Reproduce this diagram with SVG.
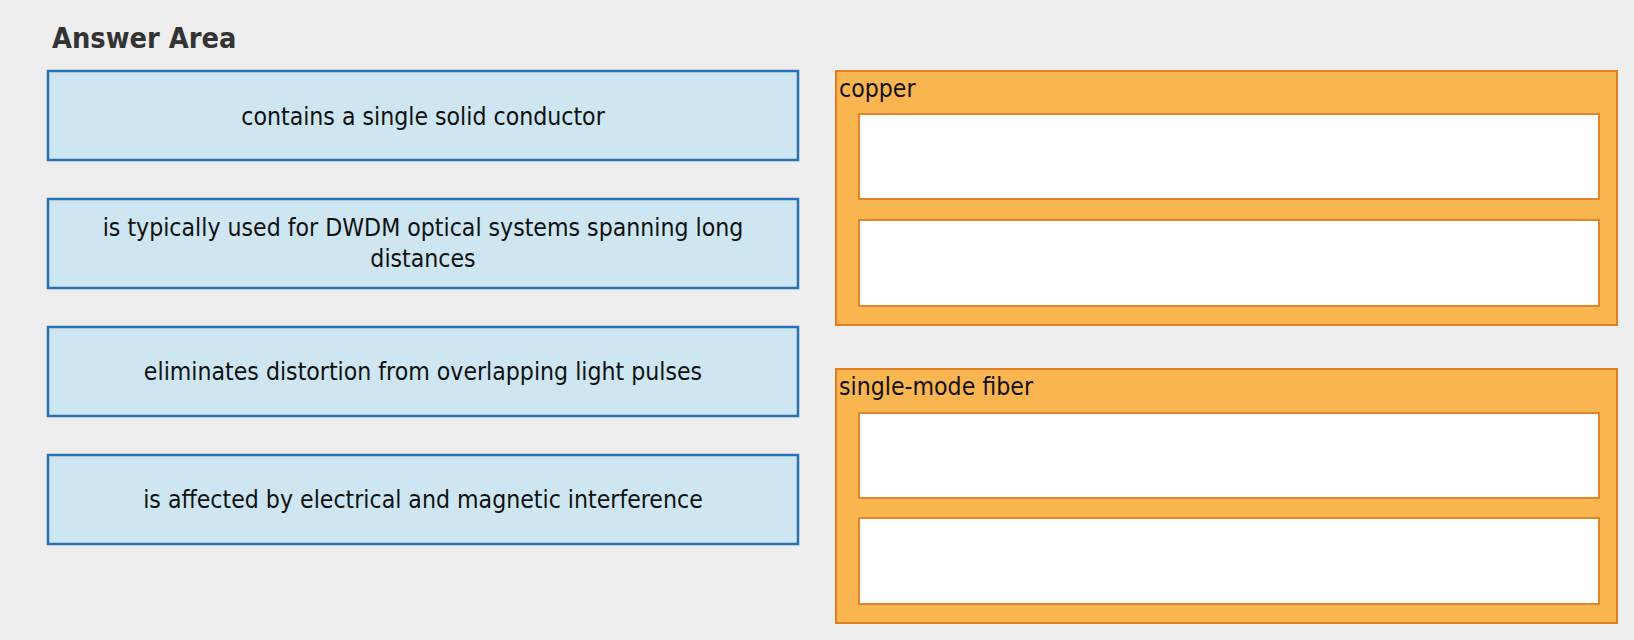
<svg xmlns="http://www.w3.org/2000/svg" width="1634" height="640" viewBox="0 0 1634 640">
  <style>
    .title { font-family: "DejaVu Sans Condensed", "DejaVu Sans", sans-serif; font-weight: bold; font-size: 28.7px; fill: #333333; }
    .item rect { fill: #cde6f2; stroke: #2a72ad; stroke-width: 2.5; }
    .item text { font-family: "DejaVu Sans Condensed", "DejaVu Sans", sans-serif; font-size: 24.6px; fill: #111111; text-anchor: middle; }
    .frame { fill: #f9b54f; stroke: #e07f22; stroke-width: 2; }
    .group text { font-family: "DejaVu Sans Condensed", "DejaVu Sans", sans-serif; font-size: 24.6px; fill: #111111; }
    .slot { fill: #ffffff; stroke: #e5832a; stroke-width: 2; }
  </style>

  <rect x="0" y="0" width="1634" height="640" fill="#eeeeee"/>

  <text class="title" x="52" y="48">Answer Area</text>

  <!-- draggable answer items -->
  <g id="item-1" class="item">
    <rect x="48" y="71" width="750" height="89"/>
    <text x="423" y="125">contains a single solid conductor</text>
  </g>
  <g id="item-2" class="item">
    <rect x="48" y="199" width="750" height="89"/>
    <text x="423" y="236">is typically used for DWDM optical systems spanning long</text>
    <text x="423" y="267">distances</text>
  </g>
  <g id="item-3" class="item">
    <rect x="48" y="327" width="750" height="89"/>
    <text x="423" y="380">eliminates distortion from overlapping light pulses</text>
  </g>
  <g id="item-4" class="item">
    <rect x="48" y="455" width="750" height="89"/>
    <text x="423" y="508">is affected by electrical and magnetic interference</text>
  </g>

  <!-- target categories with drop slots -->
  <g id="copper" class="group">
    <rect class="frame" x="836" y="71" width="781" height="254"/>
    <text x="839" y="97">copper</text>
    <rect class="slot" x="859" y="114" width="740" height="85"/>
    <rect class="slot" x="859" y="220" width="740" height="86"/>
  </g>
  <g id="single-mode-fiber" class="group">
    <rect class="frame" x="836" y="369" width="781" height="254"/>
    <text x="839" y="395">single-mode fiber</text>
    <rect class="slot" x="859" y="413" width="740" height="85"/>
    <rect class="slot" x="859" y="518" width="740" height="86"/>
  </g>

  <g id="connectors"/>
</svg>
